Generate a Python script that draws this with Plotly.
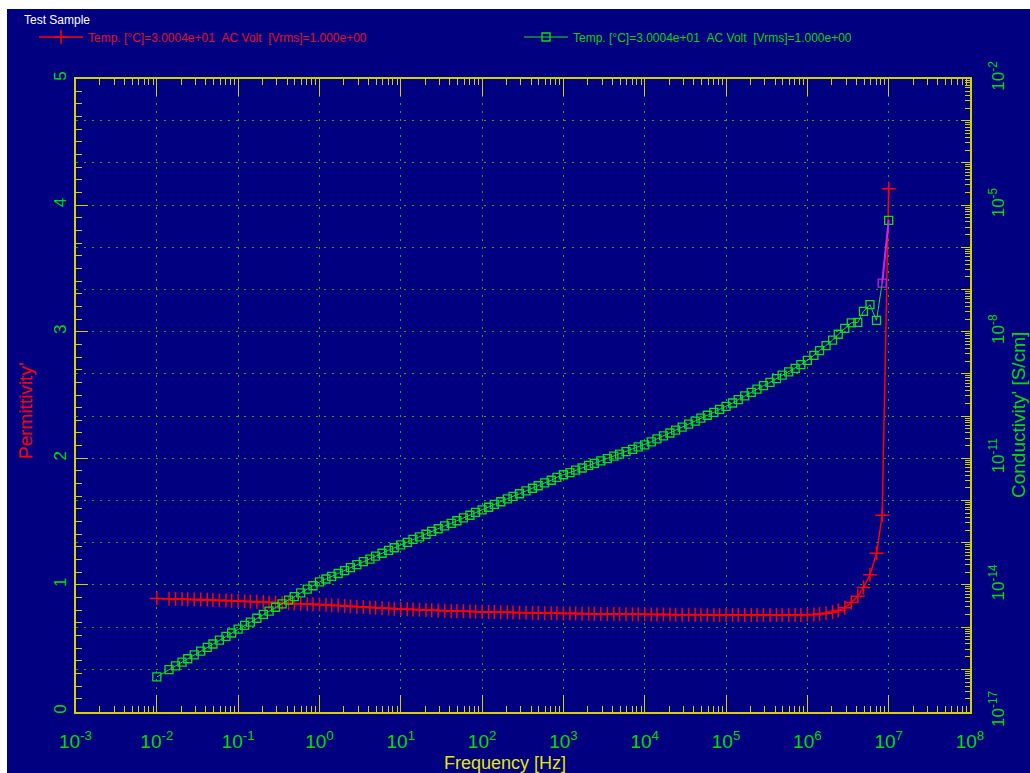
import plotly.graph_objects as go

# ---------------- data ----------------
LOG_FREQ = [
    -2.00, -1.85, -1.77, -1.69, -1.62, -1.54, -1.46, -1.38, -1.31, -1.23, -1.15, -1.08,
    -1.00, -0.92, -0.85, -0.77, -0.69, -0.62, -0.54, -0.46, -0.38, -0.31, -0.23, -0.15, -0.08,
    0.00, 0.08, 0.15, 0.23, 0.31, 0.38, 0.46, 0.54, 0.62, 0.69, 0.77, 0.85, 0.92,
    1.00, 1.08, 1.15, 1.23, 1.31, 1.38, 1.46, 1.54, 1.62, 1.69, 1.77, 1.85, 1.92,
    2.00, 2.08, 2.15, 2.23, 2.31, 2.38, 2.46, 2.54, 2.62, 2.69, 2.77, 2.85, 2.92,
    3.00, 3.08, 3.15, 3.23, 3.31, 3.38, 3.46, 3.54, 3.62, 3.69, 3.77, 3.85, 3.92,
    4.00, 4.08, 4.15, 4.23, 4.31, 4.38, 4.46, 4.54, 4.62, 4.69, 4.77, 4.85, 4.92,
    5.00, 5.08, 5.15, 5.23, 5.31, 5.38, 5.46, 5.54, 5.62, 5.69, 5.77, 5.85, 5.92,
    6.00, 6.08, 6.15, 6.23, 6.31, 6.38, 6.46, 6.54, 6.62, 6.69, 6.77, 6.85, 6.92,
    7.00,
]

PERMITTIVITY = [
    0.893, 0.890, 0.889, 0.888, 0.887, 0.885, 0.884, 0.882, 0.880, 0.878, 0.876, 0.874,
    0.872, 0.870, 0.868, 0.866, 0.864, 0.862, 0.860, 0.858, 0.856, 0.854, 0.852, 0.850, 0.848,
    0.846, 0.843, 0.840, 0.837, 0.834, 0.831, 0.828, 0.825, 0.822, 0.819, 0.816, 0.814, 0.812,
    0.810, 0.808, 0.806, 0.804, 0.802, 0.800, 0.798, 0.796, 0.794, 0.793, 0.791, 0.790, 0.788,
    0.787, 0.786, 0.785, 0.784, 0.783, 0.782, 0.781, 0.780, 0.779, 0.778, 0.777, 0.776, 0.776,
    0.775, 0.774, 0.774, 0.773, 0.772, 0.772, 0.771, 0.771, 0.770, 0.770, 0.769, 0.769, 0.768,
    0.768, 0.767, 0.767, 0.766, 0.766, 0.765, 0.765, 0.765, 0.764, 0.764, 0.764, 0.763, 0.763,
    0.763, 0.763, 0.762, 0.762, 0.762, 0.762, 0.762, 0.762, 0.762, 0.762, 0.763, 0.763, 0.763,
    0.764, 0.766, 0.770, 0.776, 0.785, 0.797, 0.820, 0.860, 0.910, 0.980, 1.080, 1.250, 1.550,
    4.130,
]

LOG_CONDUCTIVITY = [
    -16.18, -16.01, -15.92, -15.83, -15.75, -15.66, -15.57, -15.48, -15.40, -15.31, -15.22, -15.14,
    -15.05, -14.96, -14.88, -14.79, -14.70, -14.62, -14.53, -14.45, -14.36, -14.28, -14.19, -14.10, -14.02,
    -13.93, -13.86, -13.80, -13.73, -13.66, -13.59, -13.52, -13.45, -13.39, -13.32, -13.25, -13.18, -13.12,
    -13.05, -12.99, -12.92, -12.86, -12.80, -12.73, -12.67, -12.60, -12.54, -12.48, -12.41, -12.35, -12.28,
    -12.22, -12.16, -12.09, -12.03, -11.96, -11.90, -11.84, -11.77, -11.71, -11.65, -11.58, -11.52, -11.45,
    -11.39, -11.34, -11.28, -11.23, -11.17, -11.12, -11.06, -11.01, -10.95, -10.90, -10.84, -10.79, -10.73,
    -10.68, -10.61, -10.54, -10.47, -10.40, -10.33, -10.26, -10.19, -10.12, -10.05, -9.98, -9.91, -9.84,
    -9.77, -9.69, -9.61, -9.52, -9.44, -9.36, -9.28, -9.20, -9.11, -9.03, -8.95, -8.87, -8.78,
    -8.68, -8.56, -8.45, -8.33, -8.20, -8.06, -7.92, -7.79, -7.78, -7.52, -7.36, -7.73, -6.85,
    -5.36,
]

X_TICK_EXP = list(range(-3, 9))           # 10^-3 ... 10^8
Y_LEFT_TICKS = [0, 1, 2, 3, 4, 5]
Y2_GRID_EXP = list(range(-17, -1))        # every decade
Y2_LABEL_EXP = [-17, -14, -11, -8, -5, -2]

LEGEND_TITLE = "Test Sample"
LEGEND_TEXT = "Temp. [°C]=3.0004e+01\u00a0\u00a0AC Volt\u00a0\u00a0[Vrms]=1.000e+00"

# ---------------- styling ----------------
W, H = 1030, 773
NAVY = "#000080"
AX = "#d2d200"
GREEN_TXT = "#00dc00"
GRID = "rgb(0,190,0)"
RED = "#ff0000"
RED_TXT = "#e0102a"
FONT = "Liberation Sans, Arial, sans-serif"

# plot area in pixels
L, R, T, B = 75.5, 970.0, 78.5, 711.5

freq = [10 ** v for v in LOG_FREQ]
cond = [10 ** v for v in LOG_CONDUCTIVITY]

fig = go.Figure()

fig.add_trace(go.Scatter(
    x=freq, y=PERMITTIVITY, mode="lines+markers", yaxis="y",
    name=f'<span style="color:{RED_TXT}">{LEGEND_TEXT}</span>',
    line=dict(color=RED, width=1.5),
    marker=dict(symbol="cross-thin", size=10, line=dict(color=RED, width=1.5), color=RED),
))

sq_colors = ["#10e010"] * len(freq)
sq_colors[-2] = "#c020e0"
fig.add_trace(go.Scatter(
    x=freq, y=cond, mode="lines+markers", yaxis="y2",
    name=f'<span style="color:#10d010">{LEGEND_TEXT}</span>',
    line=dict(color="#20e020", width=1),
    marker=dict(symbol="square-open", size=8, color=sq_colors, line=dict(width=1.3, color=sq_colors)),
))
fig.add_trace(go.Scatter(
    x=freq[-2:], y=cond[-2:], mode="lines", yaxis="y2", showlegend=False,
    line=dict(color="#d020e0", width=2), hoverinfo="skip",
))
# invisible trace so the top (mirror) frequency axis is drawn
fig.add_trace(go.Scatter(
    x=freq[:1], y=PERMITTIVITY[:1], xaxis="x2", yaxis="y", mode="markers",
    marker=dict(opacity=0), showlegend=False, hoverinfo="skip",
))

x_tickvals = [10 ** e for e in X_TICK_EXP]
x_tick_text = [f"10<sup>{e}</sup>" for e in X_TICK_EXP]
y2_tick_text = [f"10<sup>{e}</sup>" if e in Y2_LABEL_EXP else "" for e in Y2_GRID_EXP]
x_minor = [k * 10 ** e for e in X_TICK_EXP[:-1] for k in range(2, 10)]
y2_minor = [k * 10 ** e for e in Y2_GRID_EXP[:-1] for k in range(2, 10)]

dom_x = [L / W, R / W]
dom_y = [(H - B) / H, (H - T) / H]

fig.update_layout(
    width=W, height=H,
    margin=dict(l=0, r=0, t=0, b=0, pad=0, autoexpand=False),
    paper_bgcolor="white",
    plot_bgcolor="rgba(0,0,0,0)",
    font=dict(family=FONT, color=GREEN_TXT),
    shapes=[dict(type="rect", xref="paper", yref="paper", x0=7 / W, x1=1, y0=0, y1=(H - 9) / H,
                 fillcolor=NAVY, line=dict(width=0), layer="below")],
    xaxis=dict(
        type="log", domain=dom_x, range=[-3, 8],
        tickmode="array", tickvals=x_tickvals, ticktext=x_tick_text,
        tickfont=dict(size=19, color=GREEN_TXT), ticklabelstandoff=12,
        ticks="inside", ticklen=17, tickcolor=AX, tickwidth=1,
        showline=True, linecolor=AX, linewidth=2, mirror=False,
        showgrid=True, gridcolor=GRID, gridwidth=1, griddash="2px,6px",
        minor=dict(ticks="inside", ticklen=6, tickcolor=AX, tickmode="array", tickvals=x_minor,
                   showgrid=False),
        zeroline=False,
    ),
    xaxis2=dict(
        type="log", overlaying="x", side="top", anchor="y", range=[-3, 8],
        tickmode="array", tickvals=x_tickvals, showticklabels=False,
        ticks="inside", ticklen=17, tickcolor=AX, tickwidth=1,
        showline=True, linecolor=AX, linewidth=2, showgrid=False, zeroline=False,
        minor=dict(ticks="inside", ticklen=6, tickcolor=AX, tickmode="array", tickvals=x_minor,
                   showgrid=False),
    ),
    yaxis=dict(
        domain=dom_y, range=[0, 5],
        tickmode="array", tickvals=Y_LEFT_TICKS, ticktext=[str(v) for v in Y_LEFT_TICKS],
        tickangle=-90, tickfont=dict(size=17, color=GREEN_TXT), ticklabelstandoff=1,
        ticks="inside", ticklen=12, tickcolor=AX,
        showline=True, linecolor=AX, linewidth=2, mirror=False,
        showgrid=False, zeroline=False,
        minor=dict(ticks="inside", ticklen=6, tickcolor=AX, dtick=0.1, showgrid=False),
    ),
    yaxis2=dict(
        type="log", overlaying="y", side="right", range=[-17, -2],
        tickmode="array", tickvals=[10 ** e for e in Y2_GRID_EXP], ticktext=y2_tick_text,
        tickangle=-90, tickfont=dict(size=17, color=GREEN_TXT), ticklabelstandoff=12,
        ticks="inside", ticklen=9, tickcolor=AX,
        showline=True, linecolor=AX, linewidth=2,
        showgrid=True, gridcolor=GRID, gridwidth=1, griddash="2px,6px",
        minor=dict(ticks="inside", ticklen=5, tickcolor=AX, tickmode="array", tickvals=y2_minor,
                   showgrid=False),
        zeroline=False,
    ),
    legend=dict(
        orientation="h", x=34 / W, y=(H - 37) / H, xanchor="left", yanchor="middle",
        bgcolor="rgba(0,0,0,0)", borderwidth=0,
        font=dict(size=12, family=FONT),
        entrywidth=426, entrywidthmode="pixels", itemwidth=44, tracegroupgap=0,
    ),
    annotations=[
        dict(text=LEGEND_TITLE, xref="paper", yref="paper", x=22 / W, y=(H - 20) / H,
             xanchor="left", yanchor="middle", showarrow=False,
             font=dict(size=12, color="white", family=FONT)),
        dict(text="Permittivity'", xref="paper", yref="paper", x=25 / W, y=(H - 411) / H,
             xanchor="center", yanchor="middle",
             textangle=-90, showarrow=False, font=dict(size=19, color=RED, family=FONT)),
        dict(text="Conductivity' [S/cm]", xref="paper", yref="paper", x=1018 / W, y=(H - 415) / H,
             xanchor="center", yanchor="middle",
             textangle=-90, showarrow=False, font=dict(size=19, color=GREEN_TXT, family=FONT)),
        dict(text="Frequency [Hz]", xref="paper", yref="paper", x=505 / W, y=(H - 763) / H,
             xanchor="center", yanchor="middle",
             showarrow=False, font=dict(size=18, color="#e6e600", family=FONT)),
    ],
)

fig.write_html("out.html")
